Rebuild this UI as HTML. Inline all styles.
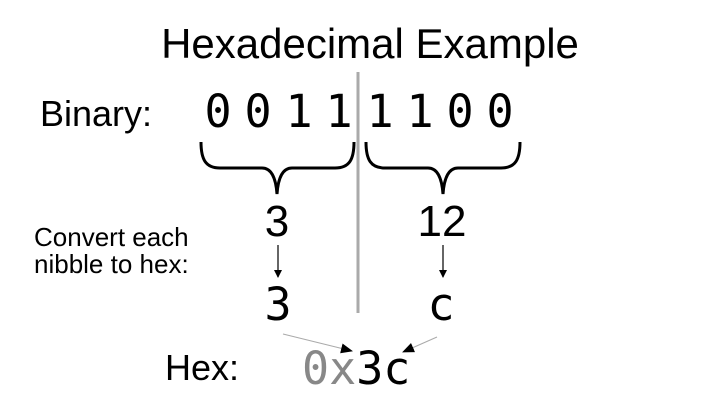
<!DOCTYPE html>
<html><head><meta charset="utf-8"><style>
html,body{margin:0;padding:0;background:#fff;}
svg{display:block;}
.s{font-family:"Liberation Sans",sans-serif;}
.m{font-family:"DejaVu Sans Mono","Liberation Mono",monospace;}
</style></head><body>
<svg width="712" height="403" viewBox="0 0 712 403">
<defs>
<marker id="ah" markerWidth="8" markerHeight="8" refX="7" refY="4" orient="auto" markerUnits="userSpaceOnUse"><path d="M0,0 L8,4 L0,8 z" fill="#000"/></marker>
<marker id="ah2" markerWidth="12" markerHeight="10" refX="11" refY="5" orient="auto" markerUnits="userSpaceOnUse"><path d="M0,0 L12,5 L0,10 z" fill="#000"/></marker>
</defs>
<text class="s" x="370" y="58" font-size="42" text-anchor="middle">Hexadecimal Example</text>
<line x1="358" y1="72" x2="358" y2="313" stroke="#aaa" stroke-width="3"/>
<text class="s" x="40" y="126" font-size="36">Binary:</text>
<g class="m" font-size="45" text-anchor="middle">
<text x="218" y="127">0</text><text x="258" y="127">0</text><text x="299" y="127">1</text><text x="339" y="127">1</text>
<text x="380" y="127">1</text><text x="420" y="127">1</text><text x="460" y="127">0</text><text x="500" y="127">0</text>
</g>
<path d="M201,142 C201,160 206,168 220,168 L262,168 C272,168 276,180 277,194 C278,180 282,168 292,168 L335,168 C349,168 354,160 354,142" fill="none" stroke="#000" stroke-width="3"/>
<path d="M366,142 C366,160 371,168 385,168 L428,168 C438,168 442,180 443,194 C444,180 448,168 458,168 L501,168 C515,168 520,160 520,142" fill="none" stroke="#000" stroke-width="3"/>
<text class="s" x="277" y="236" font-size="44" text-anchor="middle">3</text>
<text class="s" x="442" y="236" font-size="44" text-anchor="middle">12</text>
<text class="s" font-size="26"><tspan x="34" y="246">Convert each</tspan><tspan x="34" y="273">nibble to hex:</tspan></text>
<line x1="278" y1="245" x2="278" y2="277" stroke="#000" stroke-width="1.2" marker-end="url(#ah)"/>
<line x1="443" y1="245" x2="443" y2="277" stroke="#000" stroke-width="1.2" marker-end="url(#ah)"/>
<text class="m" x="278" y="320" font-size="45" text-anchor="middle">3</text>
<text class="m" x="441" y="320" font-size="45" text-anchor="middle">c</text>
<line x1="283" y1="334" x2="352" y2="351" stroke="#aaa" stroke-width="1" marker-end="url(#ah2)"/>
<line x1="437" y1="337" x2="403" y2="352" stroke="#aaa" stroke-width="1" marker-end="url(#ah2)"/>
<text class="s" x="165" y="380" font-size="36">Hex:</text>
<text class="m" x="302" y="384" font-size="45"><tspan fill="#888">0x</tspan><tspan fill="#000">3c</tspan></text>
</svg>
</body></html>
